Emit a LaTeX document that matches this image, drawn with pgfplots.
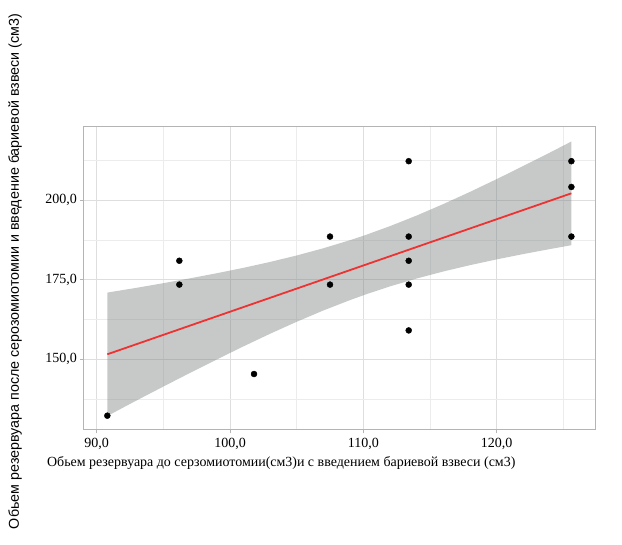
\documentclass[border=0pt]{standalone}
\usepackage{fontspec}
\setmainfont{Liberation Serif}
\newfontfamily\ysans{Liberation Sans}
\usepackage{pgfplots}
\pgfplotsset{compat=1.18}
\definecolor{bandc}{RGB}{118,125,125}
\definecolor{linec}{RGB}{238,50,50}
\definecolor{gridmaj}{RGB}{222,222,222}
\definecolor{gridmin}{RGB}{236,236,236}
\definecolor{framec}{RGB}{180,180,180}
\begin{document}
\begin{tikzpicture}
\useasboundingbox (-84pt,-115pt) rectangle (538pt,430pt);
\begin{axis}[
  at={(0pt,0pt)}, anchor=south west,
  scale only axis, width=511pt, height=303pt,
  xmin=89.05, xmax=127.37, ymin=127.7, ymax=222.95,
  xtick={90,100,110,120}, xticklabels={{90,0},{100,0},{110,0},{120,0}},
  ytick={150,175,200}, yticklabels={{150,0},{175,0},{200,0}},
  minor xtick={95,105,115,125}, minor ytick={137.5,162.5,187.5,212.5},
  grid=both,
  major grid style={draw=gridmaj, line width=0.6pt},
  minor grid style={draw=gridmin, line width=0.4pt},
  tick align=outside, tick pos=left,
  major tick length=3.5pt, minor tick length=0pt,
  tick style={draw=framec, line width=0.6pt},
  axis line style={draw=framec, line width=1pt},
  ticklabel style={font=\fontsize{14}{16}\selectfont, text=black},
  xticklabel style={yshift=-1pt},
  xlabel={Обьем резервуара до серзомиотомии(см3)и с введением бариевой взвеси (см3)},
  xlabel style={at={(axis description cs:0.386,-0.119)}, anchor=base, font=\fontsize{13.95}{16}\selectfont},
  ylabel={Обьем резервуара после серозомиотомии и введение бариевой взвеси (см3)},
  ylabel style={at={(axis description cs:-0.135,0.523)}, anchor=center, rotate=0, font=\ysans\fontsize{14.3}{16}\selectfont},
]
\addplot[only marks, mark=*, mark size=3pt, mark options={draw=black, fill=black}] coordinates {
  (90.8,132.2) (96.2,180.9) (96.2,173.4) (101.8,145.3)
  (107.5,188.5) (107.5,173.4)
  (113.4,212.2) (113.4,188.5) (113.4,180.9) (113.4,173.4) (113.4,159.0)
  (125.6,212.2) (125.6,204.1) (125.6,188.5)
};
\addplot[fill=bandc, fill opacity=0.41, draw=none] coordinates {
  (90.8,170.9) (93,172.4) (95,173.85) (97,175.38) (99,176.97) (101,178.67)
  (103,180.52) (105,182.56) (107,184.83) (109,187.37) (110.27,189.15)
  (112,191.79) (114,195.12) (116,198.73) (118,202.56) (120,206.57)
  (122,210.71) (124,214.94) (125.6,218.39)
  (125.6,185.79) (124,184.58) (122,183.01) (120,181.33) (118,179.52)
  (116,177.53) (114,175.32) (112,172.85) (110.27,170.45) (109,168.53)
  (107,165.27) (105,161.72) (103,157.94) (101,153.97) (99,149.85)
  (97,145.64) (95,141.35) (93,137.0) (90.8,132.1)
} -- cycle;
\addplot[draw=linec, line width=1.8pt, no marks] coordinates {
  (90.8,151.5) (125.6,202.1)
};
\end{axis}
\end{tikzpicture}
\end{document}
